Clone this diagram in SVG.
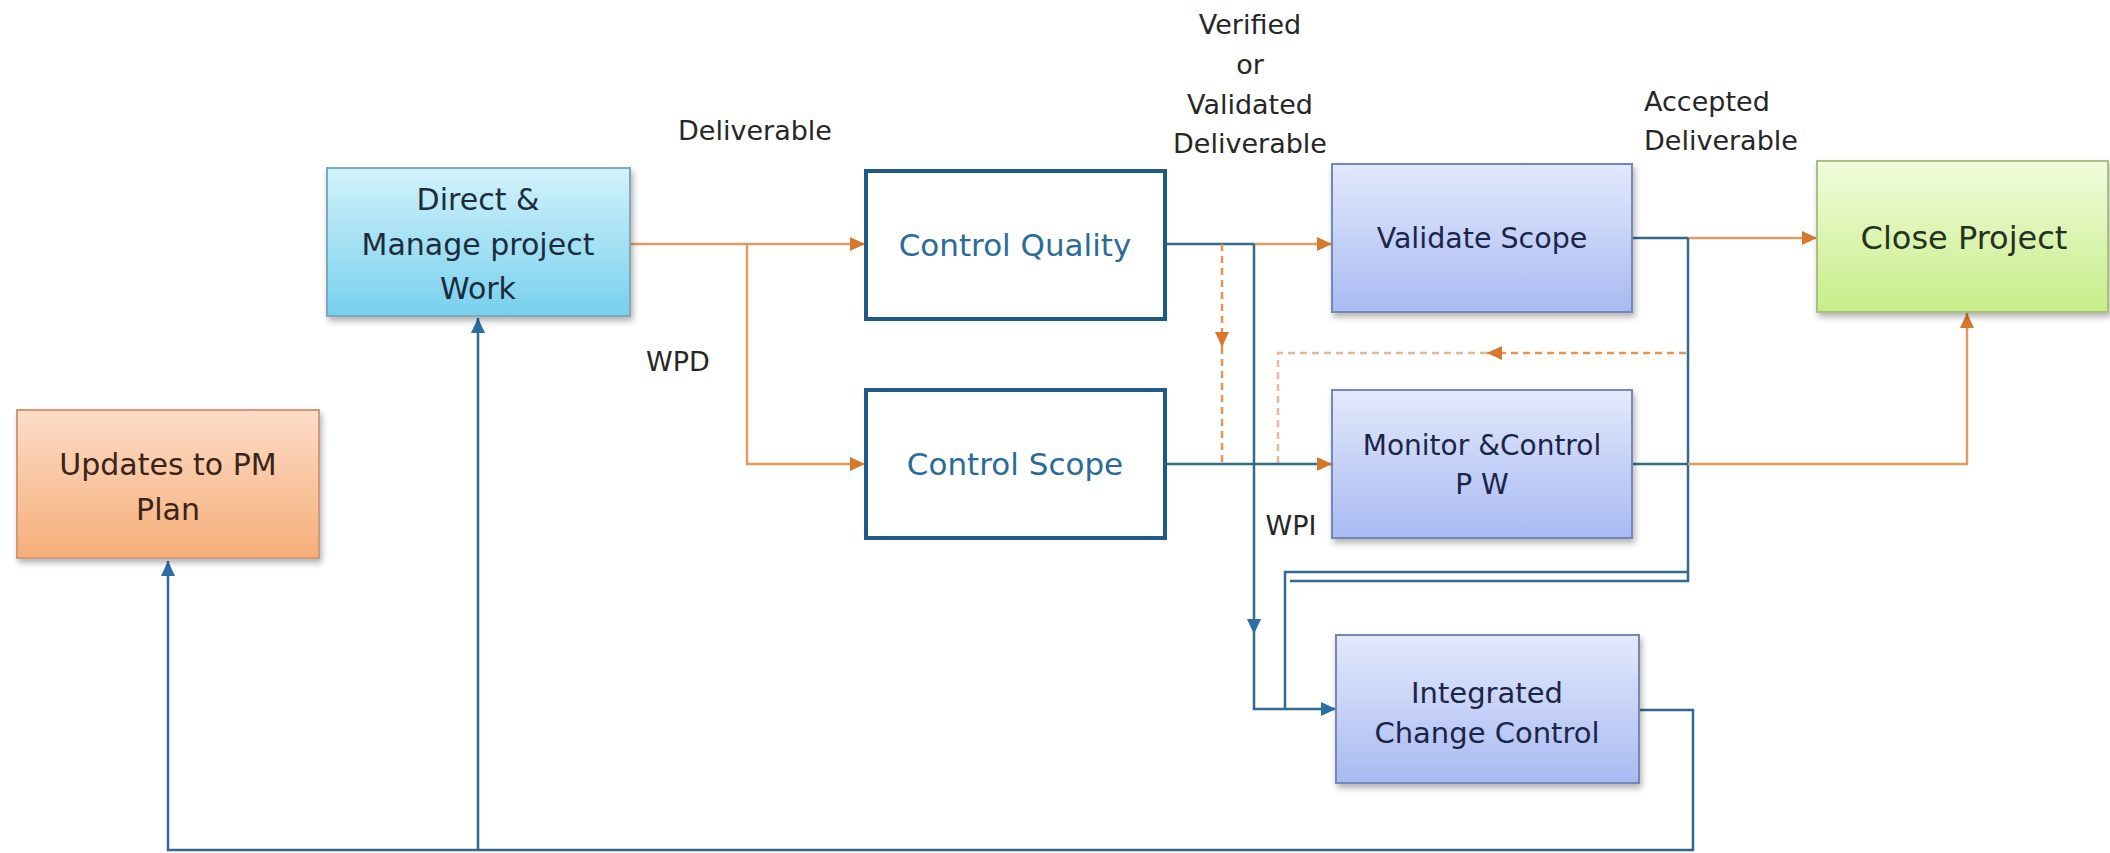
<svg xmlns="http://www.w3.org/2000/svg" width="2110" height="853" viewBox="0 0 2110 853">
<defs>
<linearGradient id="gCyan" x1="0" y1="0" x2="0" y2="1"><stop offset="0" stop-color="#d2f2fb"/><stop offset="1" stop-color="#78d0ee"/></linearGradient>
<linearGradient id="gPeach" x1="0" y1="0" x2="0" y2="1"><stop offset="0" stop-color="#fcdcc8"/><stop offset="1" stop-color="#f6ae78"/></linearGradient>
<linearGradient id="gLav" x1="0" y1="0" x2="0" y2="1"><stop offset="0" stop-color="#e3e9fc"/><stop offset="1" stop-color="#a8baf2"/></linearGradient>
<linearGradient id="gGreen" x1="0" y1="0" x2="0" y2="1"><stop offset="0" stop-color="#f2fbdc"/><stop offset="1" stop-color="#c6ee88"/></linearGradient>
<filter id="sh" x="-10%" y="-10%" width="130%" height="140%"><feDropShadow dx="2" dy="4" stdDeviation="3" flood-color="#000" flood-opacity="0.3"/></filter>
<marker id="aO" markerUnits="userSpaceOnUse" markerWidth="16" markerHeight="16" refX="15" refY="8" orient="auto"><path d="M0,1 L15,8 L0,15 z" fill="#d8782c"/></marker>
<marker id="aB" markerUnits="userSpaceOnUse" markerWidth="16" markerHeight="16" refX="15" refY="8" orient="auto"><path d="M0,1 L15,8 L0,15 z" fill="#2a6ea6"/></marker>
</defs>
<style>
.t{font-family:"DejaVu Sans","Liberation Sans",sans-serif;text-anchor:middle}
.lbl{font-family:"DejaVu Sans","Liberation Sans",sans-serif;font-size:27px;fill:#262626}
.o{fill:none;stroke:#e29a62;stroke-width:2.5}
.b{fill:none;stroke:#33698f;stroke-width:2.5}
.od{fill:none;stroke:#e59552;stroke-width:2.5;stroke-dasharray:7,5}
.gd{fill:none;stroke:#e8b896;stroke-width:2.5;stroke-dasharray:7,5}
.lav{fill:url(#gLav);stroke:#7487b3;stroke-width:2;filter:url(#sh)}
.cq{fill:#fff;stroke:#1f5b86;stroke-width:4}
</style>
<rect width="2110" height="853" fill="#fff"/>
<g id="connectors">
<path class="o" d="M630,244 H865" marker-end="url(#aO)"/>
<path class="o" d="M747,244 V464 H865" marker-end="url(#aO)"/>
<path class="o" d="M1254,244 H1332" marker-end="url(#aO)"/>
<path class="b" d="M1165,244 H1254"/>
<path class="od" d="M1222,244 V347" marker-end="url(#aO)"/>
<path class="od" d="M1222,347 V464"/>
<path class="od" d="M1686,353 H1487" marker-end="url(#aO)"/>
<path class="gd" d="M1487,353 H1278 V464"/>
<path class="b" d="M1165,464 H1332" marker-end="url(#aO)"/>
<path class="b" d="M1254,244 V634" marker-end="url(#aB)"/>
<path class="b" d="M1254,634 V709 H1336" marker-end="url(#aB)"/>
<path class="b" d="M1632,238 H1688"/>
<path class="o" d="M1688,238 H1817" marker-end="url(#aO)"/>
<path class="b" d="M1688,238 V581 H1290"/>
<path class="b" d="M1688,572 H1285 V709"/>
<path class="b" d="M1632,464 H1688"/>
<path class="o" d="M1688,464 H1967 V313" marker-end="url(#aO)"/>
<path class="b" d="M1639,710 H1693 V850 H168 V561" marker-end="url(#aB)"/>
<path class="b" d="M478,850 V318" marker-end="url(#aB)"/>
</g>
<g id="labels">
<text class="lbl" x="755" y="140" text-anchor="middle">Deliverable</text>
<text class="lbl" x="678" y="371" text-anchor="middle">WPD</text>
<text class="lbl" x="1291" y="535" text-anchor="middle">WPI</text>
<text class="lbl" x="1250" y="34" text-anchor="middle">Verified</text>
<text class="lbl" x="1250" y="74" text-anchor="middle">or</text>
<text class="lbl" x="1250" y="114" text-anchor="middle">Validated</text>
<text class="lbl" x="1250" y="153" text-anchor="middle">Deliverable</text>
<text class="lbl" x="1644" y="111">Accepted</text>
<text class="lbl" x="1644" y="150">Deliverable</text>
</g>
<g id="n-direct">
<rect x="327" y="168" width="303" height="148" fill="url(#gCyan)" stroke="#7fa9bb" stroke-width="2" filter="url(#sh)"/>
<text class="t" x="478" y="210" font-size="30" fill="#1b2d3c">Direct &amp;</text>
<text class="t" x="478" y="255" font-size="30" fill="#1b2d3c">Manage project</text>
<text class="t" x="478" y="299" font-size="30" fill="#1b2d3c">Work</text>
</g>
<g id="n-updates">
<rect x="17" y="410" width="302" height="148" fill="url(#gPeach)" stroke="#d09a78" stroke-width="2" filter="url(#sh)"/>
<text class="t" x="168" y="475" font-size="30" fill="#3a2418">Updates to PM</text>
<text class="t" x="168" y="520" font-size="30" fill="#3a2418">Plan</text>
</g>
<g id="n-cq">
<rect class="cq" x="866" y="171" width="299" height="148"/>
<text class="t" x="1015" y="256" font-size="31" fill="#2b6b97">Control Quality</text>
</g>
<g id="n-cs">
<rect class="cq" x="866" y="390" width="299" height="148"/>
<text class="t" x="1015" y="475" font-size="31" fill="#2b6b97">Control Scope</text>
</g>
<g id="n-vs">
<rect class="lav" x="1332" y="164" width="300" height="148"/>
<text class="t" x="1482" y="248" font-size="28.5" fill="#1c2548">Validate Scope</text>
</g>
<g id="n-mc">
<rect class="lav" x="1332" y="390" width="300" height="148"/>
<text class="t" x="1482" y="455" font-size="28" fill="#1c2548">Monitor &amp;Control</text>
<text class="t" x="1482" y="494" font-size="28" fill="#1c2548">P W</text>
</g>
<g id="n-icc">
<rect class="lav" x="1336" y="635" width="303" height="148"/>
<text class="t" x="1487" y="703" font-size="29" fill="#1c2548">Integrated</text>
<text class="t" x="1487" y="743" font-size="29" fill="#1c2548">Change Control</text>
</g>
<g id="n-close">
<rect x="1817" y="161" width="291" height="151" fill="url(#gGreen)" stroke="#a9bf86" stroke-width="2" filter="url(#sh)"/>
<text class="t" x="1964" y="249" font-size="32" fill="#24331f">Close Project</text>
</g>
</svg>
